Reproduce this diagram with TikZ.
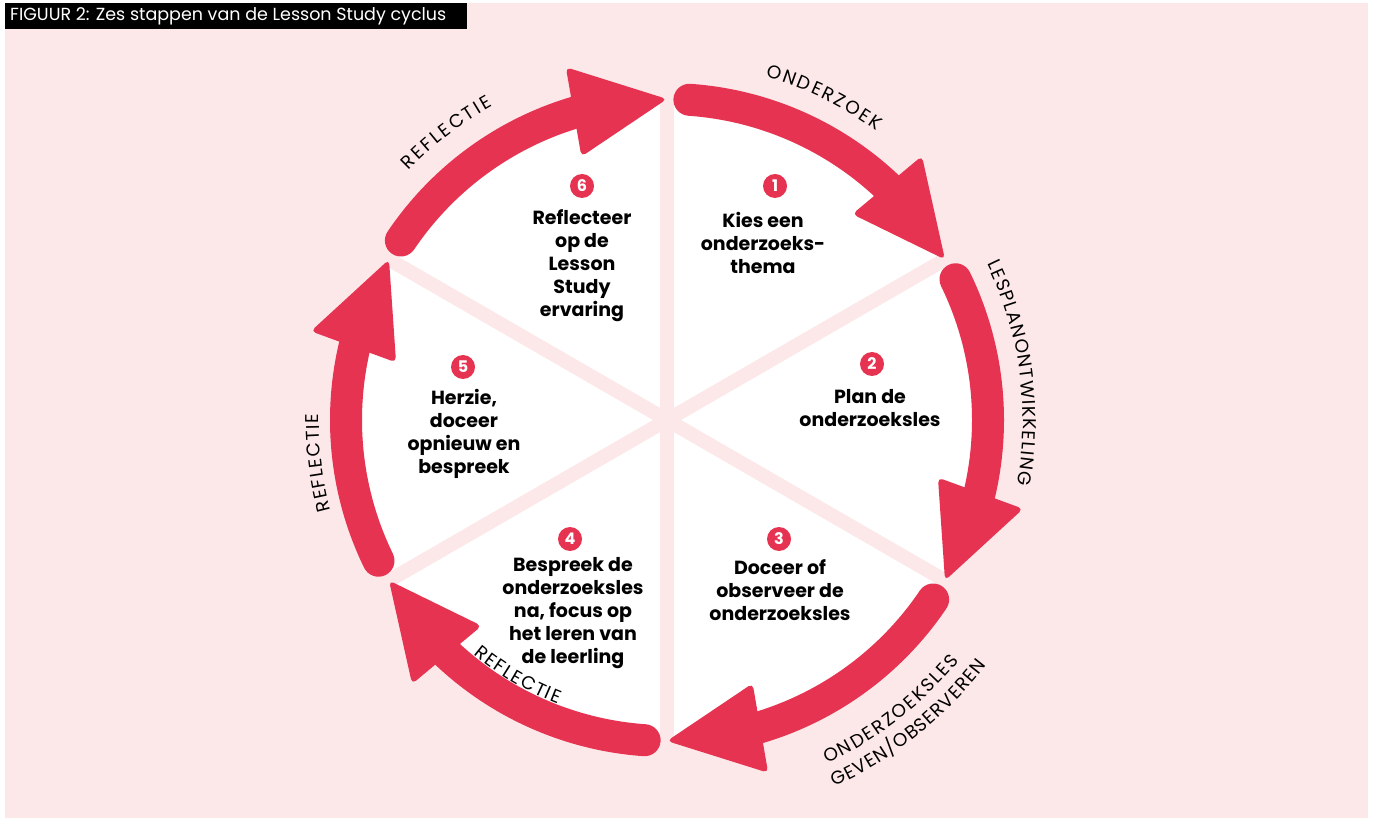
\documentclass[tikz,border=0pt]{standalone}
\usepackage{fontspec}
\setmainfont{Poppins}
\newfontfamily\arcfont{Poppins}
\usetikzlibrary{decorations.text,calc}
\definecolor{bgpink}{RGB}{252,232,233}
\definecolor{cred}{RGB}{231,51,82}
\tikzset{
  steptext/.style={align=center, font=\bfseries\fontsize{19}{23}\selectfont, inner sep=0},
  numdot/.style={circle, fill=cred, text=white, minimum size=24, inner sep=0, font=\bfseries\fontsize{16}{16}\selectfont},
  band/.style={cred, line width=32, line cap=round},
  arclabel/.style={decorate, decoration={text along path, text align=fit to path, text={|\arcfont\fontsize{18.5}{18.5}\selectfont|#1}}}
}
\begin{document}
\begin{tikzpicture}[x=1pt,y=1pt]
\useasboundingbox (0,0) rectangle (1373,823);
\fill[white] (0,0) rectangle (1373,823);
\fill[bgpink] (5,5) rectangle (1368,820);
\fill[black] (5,794) rectangle (467,820);
\node[anchor=west, text=white, font=\fontsize{17.5}{17.5}\selectfont, inner sep=0] (title) at (10,807) {FIGUUR 2: Zes stappen van de Lesson Study cyclus};
\coordinate (C) at (667,403);
\fill[white] (C) circle[radius=321];
\foreach \a in {90,30,-30}
  \draw[bgpink, line width=14] ($(C)+(\a:330)$) -- ($(C)+(\a+180:330)$);
\foreach \t in {86,26,-34,-94,-154,146}{
  \draw[band] ($(C)+(\t:321)$) arc[start angle=\t, end angle=\t-41, radius=321];
  \fill[cred, rounded corners=5] ($(C)+(\t-40:367)$) -- ($(C)+(\t-56:321)$) -- ($(C)+(\t-38:277)$) -- cycle;
}
% numbers
\node[numdot] (n1) at (775,637) {1};
\node[numdot] (n2) at (872,459) {2};
\node[numdot] (n3) at (779,284) {3};
\node[numdot] (n4) at (570,284) {4};
\node[numdot] (n5) at (463,456) {5};
\node[numdot] (n6) at (582,637) {6};
% step texts
\node[steptext] (s1) at (763,580) {Kies een\\onderzoeks-\\thema};
\node[steptext] (s2) at (870,415) {Plan de\\onderzoeksles};
\node[steptext] (s3) at (780,233) {Doceer of\\observeer de\\onderzoeksles};
\node[steptext] (s4) at (573,210) {Bespreek de\\onderzoeksles\\na, focus op\\het leren van\\de leerling};
\node[steptext] (s5) at (464,389) {Herzie,\\doceer\\opnieuw en\\bespreek};
\node[steptext] (s6) at (582,557) {Reflecteer\\op de\\Lesson\\Study\\ervaring};
% arc labels
\path[arclabel=ONDERZOEK] ($(C)+(74:357)$) arc[start angle=74, end angle=54, radius=357];
\path[arclabel=LESPLANONTWIKKELING] ($(C)+(26:356)$) arc[start angle=26, end angle=-10.5, radius=356];
\path[arclabel=ONDERZOEKSLES] ($(C)+(-65:379)$) arc[start angle=-65, end angle=-39.5, radius=379];
\path[arclabel=GEVEN/OBSERVEREN] ($(C)+(-65.5:403)$) arc[start angle=-65.5, end angle=-37.5, radius=403];
\path[arclabel=REFLECTIE] ($(C)+(-129.5:304)$) arc[start angle=-129.5, end angle=-111, radius=304];
\path[arclabel=REFLECTIE] ($(C)+(195:348)$) arc[start angle=195, end angle=179, radius=348];
\path[arclabel=REFLECTIE] ($(C)+(136:359)$) arc[start angle=136, end angle=119, radius=359];
\end{tikzpicture}
\end{document}
